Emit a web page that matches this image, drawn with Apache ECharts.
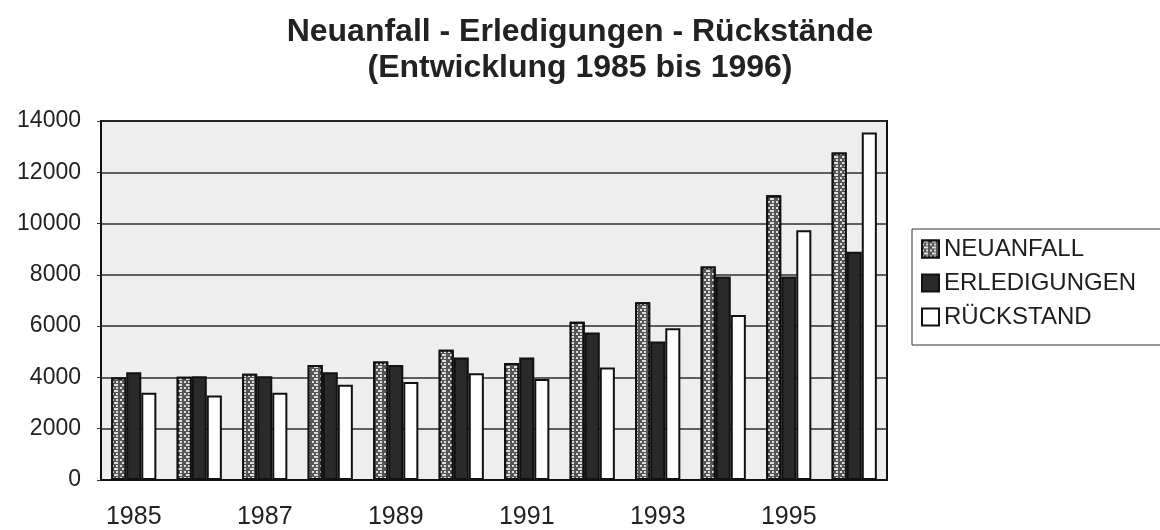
<!DOCTYPE html>
<html>
<head>
<meta charset="utf-8">
<script src="https://cdn.jsdelivr.net/npm/echarts@6/dist/echarts.min.js"></script>
<style>
  html, body { margin: 0; padding: 0; background: #fff; }
  #chart { width: 1160px; height: 530px; }
</style>
</head>
<body>
<div id="chart"></div>
<script>
const years = ['1985', '1986', '1987', '1988', '1989', '1990', '1991', '1992', '1993', '1994', '1995', '1996']
const neuanfall = [4000, 4030, 4140, 4480, 4620, 5080, 4560, 6170, 6930, 8330, 11100, 12770]
const erledigungen = [4200, 4050, 4050, 4200, 4480, 4780, 4780, 5750, 5400, 7940, 7940, 8900]
const rueckstand = [3400, 3300, 3400, 3710, 3820, 4160, 3940, 4390, 5920, 6430, 9740, 13550]
const seriesNames = ['NEUANFALL', 'ERLEDIGUNGEN', 'RÜCKSTAND']

const font = "'Liberation Sans', Arial, sans-serif"

let chart = echarts.init(document.getElementById('chart'))

// staggered light dots on grey, like the old print pattern
const checker = {
  symbol: 'rect',
  symbolSize: 1,
  color: '#dedede',
  dashArrayX: [[2, 2], [0, 2, 2]],
  dashArrayY: [2, 1],
  rotation: 0
}

const options = {
  animation: false,
  title: {
    text: 'Neuanfall - Erledigungen - Rückstände\n(Entwicklung 1985 bis 1996)',
    left: 'center',
    top: 9,
    textStyle: {
      fontFamily: font,
      fontSize: 32,
      fontWeight: 'bold',
      color: '#222',
      lineHeight: 36
    }
  },
  legend: {
    orient: 'vertical',
    left: 912,
    top: 229,
    padding: [8, 30, 16, 9],
    itemWidth: 17,
    itemHeight: 17,
    itemGap: 10,
    icon: 'rect',
    borderColor: '#333',
    borderWidth: 1,
    data: seriesNames,
    textStyle: {
      fontFamily: font,
      fontSize: 24,
      color: '#1e1e1e'
    }
  },
  grid: {
    left: 101,
    right: 273,
    top: 121,
    bottom: 48,
    show: true,
    backgroundColor: '#eeeeee',
    borderColor: '#111',
    borderWidth: 2
  },
  xAxis: {
    type: 'category',
    data: years,
    axisLine: { lineStyle: { color: '#111', width: 2 } },
    axisTick: { length: 6, lineStyle: { color: '#333' } },
    axisLabel: {
      interval: 1,
      margin: 25,
      fontFamily: font,
      fontSize: 25,
      color: '#222'
    }
  },
  yAxis: {
    type: 'value',
    min: 0,
    max: 14000,
    interval: 2000,
    axisLine: { show: true, lineStyle: { color: '#111', width: 2 } },
    axisTick: { show: true, length: 4, lineStyle: { color: '#333' } },
    splitLine: { lineStyle: { color: '#2e2e2e', width: 1.5 } },
    axisLabel: {
      margin: 20,
      fontFamily: font,
      fontSize: 23,
      color: '#222',
      formatter: function (v) { return String(v) }
    }
  },
  series: [
    {
      name: seriesNames[0],
      type: 'bar',
      data: neuanfall,
      barGap: '0%',
      barCategoryGap: '31%',
      itemStyle: { color: '#555555', borderColor: '#111', borderWidth: 2, decal: checker }
    },
    {
      name: seriesNames[1],
      type: 'bar',
      data: erledigungen,
      itemStyle: { color: '#2a2a2a', borderColor: '#111', borderWidth: 2 }
    },
    {
      name: seriesNames[2],
      type: 'bar',
      data: rueckstand,
      itemStyle: { color: '#ffffff', borderColor: '#111', borderWidth: 2 }
    }
  ]
}

chart.setOption(options)
window.addEventListener('resize', function () {
  chart.resize()
})
</script>
</body>
</html>
